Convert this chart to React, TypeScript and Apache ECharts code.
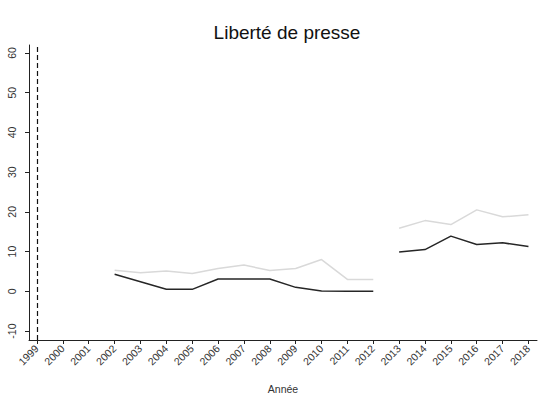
import React, { useEffect, useRef } from "react";
import * as echarts from "echarts";

const years = [1999, 2000, 2001, 2002, 2003, 2004, 2005, 2006, 2007, 2008, 2009, 2010, 2011, 2012, 2013, 2014, 2015, 2016, 2017, 2018];
const darkValues: (number | null)[] = [null, null, null, 4.3, 2.4, 0.5, 0.5, 3.1, 3.1, 3.1, 1.0, 0.1, 0.0, 0.0, 9.9, 10.5, 13.9, 11.8, 12.2, 11.3];
const lightValues: (number | null)[] = [null, null, null, 5.3, 4.7, 5.1, 4.5, 5.75, 6.6, 5.25, 5.75, 8.0, 3.0, 3.0, 15.9, 17.8, 16.8, 20.5, 18.75, 19.3];
// the series are drawn as separate segments: up to 2012, and from 2013
const segmentBreaks = [2012];
const yTicks = [-10, 0, 10, 20, 30, 40, 50, 60];
const title = "Liberté de presse";
const xName = "Année";
const markYear = 1999;

function segmentData(values: (number | null)[]) {
  const out: (number | string)[][] = [];
  years.forEach((y, i) => {
    out.push([y, values[i] == null ? "-" : (values[i] as number)]);
    if (segmentBreaks.includes(y)) out.push([y + 0.5, "-"]);
  });
  return out;
}

export default function App() {
  const ref = useRef<HTMLDivElement>(null);
  useEffect(() => {
    if (!ref.current) return;
    const chart = echarts.init(ref.current, null, { renderer: "svg" });
    const font = "'Liberation Sans', Arial, sans-serif";
    chart.setOption({
      animation: false,
      textStyle: { fontFamily: font },
      title: {
        text: title,
        left: 282,
        top: 18,
        textAlign: "center",
        textStyle: { fontFamily: font, fontSize: 19, fontWeight: "normal", color: "#111" },
      },
      grid: { left: 29, right: 12, top: 45, bottom: 57, containLabel: false },
      xAxis: {
        type: "value",
        min: 1998.69,
        max: 2018.33,
        name: xName,
        nameLocation: "middle",
        nameGap: 43,
        nameTextStyle: { fontFamily: font, fontSize: 10.5, color: "#333" },
        splitLine: { show: false },
        axisLine: { show: true, onZero: false, lineStyle: { color: "#222", width: 1 } },
        axisTick: { show: true, length: 4, customValues: years, lineStyle: { color: "#222" } },
        axisLabel: {
          customValues: years,
          rotate: 45,
          fontSize: 10.5,
          color: "#333",
          margin: 7,
          fontFamily: font,
          formatter: (v: number) => String(Math.round(v)),
        },
      },
      yAxis: {
        type: "value",
        min: -12.25,
        max: 62,
        splitLine: { show: false },
        axisLine: { show: true, lineStyle: { color: "#222", width: 1 } },
        axisTick: { show: true, length: 4, customValues: yTicks, lineStyle: { color: "#222" } },
        axisLabel: {
          customValues: yTicks,
          rotate: 90,
          fontSize: 10.5,
          color: "#333",
          margin: 12,
          fontFamily: font,
        },
      },
      series: [
        {
          type: "line",
          data: segmentData(lightValues),
          connectNulls: false,
          symbol: "none",
          lineStyle: { color: "#d9d9d9", width: 1.5 },
          z: 2,
        },
        {
          type: "line",
          data: segmentData(darkValues),
          connectNulls: false,
          symbol: "none",
          lineStyle: { color: "#262626", width: 1.5 },
          z: 3,
          markLine: {
            silent: true,
            symbol: "none",
            label: { show: false },
            lineStyle: { type: [5, 3], color: "#111", width: 1.2 },
            data: [{ xAxis: markYear }],
          },
        },
      ],
    });
    return () => chart.dispose();
  }, []);
  return <div ref={ref} style={{ width: 549, height: 399, position: "absolute", left: 0, top: 0 }} />;
}
